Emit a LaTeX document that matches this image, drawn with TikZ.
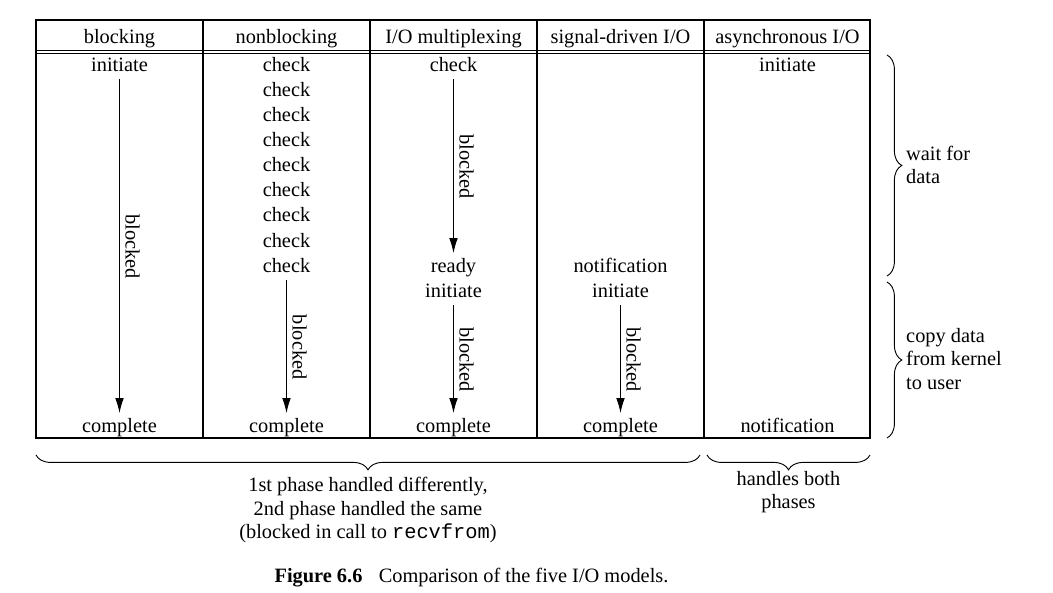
\documentclass[tikz,border=0pt]{standalone}
\usepackage{fontspec}
\setmainfont{Liberation Serif}
\setmonofont{Liberation Mono}
\usetikzlibrary{arrows.meta,decorations.pathreplacing}

\begin{document}
\begin{tikzpicture}[x=0.54pt, y=-0.54pt,
    every node/.style={font=\fontsize{11}{12.5}\selectfont, inner sep=1pt},
    cell/.style={text height=7.6pt, text depth=2.3pt, yshift=-1.2pt},
    blk/.style={-{Latex[length=8pt,width=4.6pt]}, line width=0.5pt, shorten <=0.8pt, shorten >=1.5pt},
    lbl/.style={midway, anchor=south, rotate=-90, inner sep=3pt},
    brc/.style={decorate, decoration={brace, amplitude=8pt}, line width=0.5pt}]
    \useasboundingbox (0,0) rectangle (1053,593);

    % frame
    \draw[line width=0.7pt] (36,20) rectangle (870,438);
    \draw[line width=0.5pt] (36,50.5) -- (870,50.5);
    \draw[line width=0.5pt] (36,53.5) -- (870,53.5);
    \foreach \x in {203,370,537,704}
        \draw[line width=0.7pt] (\x,20) -- (\x,438);

    % headers
    \node[cell] (hblk) at (119.5,36) {blocking};
    \node[cell] (hnon) at (286.5,36) {nonblocking};
    \node[cell] (hmux) at (453.5,36) {I/O multiplexing};
    \node[cell] (hsig) at (620.5,36) {signal-driven I/O};
    \node[cell] (hasy) at (787.5,36) {asynchronous I/O};

    % blocking
    \node[cell] (bini) at (119.5,64) {initiate};
    \node[cell] (bcom) at (119.5,425) {complete};
    \draw[blk] (bini) -- (bcom) node[lbl] {blocked};

    % nonblocking
    \foreach \i in {1,...,9}
        \node[cell] (chk\i) at (286.5,{64+(\i-1)*25.125}) {check};
    \node[cell] (ncom) at (286.5,425) {complete};
    \draw[blk] (chk9) -- (ncom) node[lbl] {blocked};

    % multiplexing
    \node[cell] (mchk) at (453.5,64) {check};
    \node[cell] (mrdy) at (453.5,265) {ready};
    \node[cell] (mini) at (453.5,290) {initiate};
    \node[cell] (mcom) at (453.5,425) {complete};
    \draw[blk] (mchk) -- (mrdy) node[lbl] {blocked};
    \draw[blk] (mini) -- (mcom) node[lbl] {blocked};

    % signal-driven
    \node[cell] (snot) at (620.5,265) {notification};
    \node[cell] (sini) at (620.5,290) {initiate};
    \node[cell] (scom) at (620.5,425) {complete};
    \draw[blk] (sini) -- (scom) node[lbl] {blocked};

    % asynchronous
    \node[cell] (aini) at (787.5,64) {initiate};
    \node[cell] (anot) at (787.5,425) {notification};

    % right braces
    \draw[brc] (887,55) -- (887,276);
    \node[anchor=west, align=left] (wait) at (904,165) {wait for\\data};
    \draw[brc] (887,282) -- (887,438);
    \node[anchor=west, align=left] (copy) at (904,359) {copy data\\from kernel\\to user};

    % bottom braces
    \draw[brc] (700,455) -- (36,455);
    \node[align=center] (first) at (368,510) {1st phase handled differently,\\2nd phase handled the same\\(blocked in call to \texttt{recvfrom})};
    \draw[brc] (870,455) -- (707,455);
    \node[align=center] (both) at (788.5,492) {handles both\\phases};

    % caption
    \node (cap) at (471.5,578) {\textbf{Figure 6.6}\hspace{0.8em}Comparison of the five I/O models.};
\end{tikzpicture}
\end{document}
